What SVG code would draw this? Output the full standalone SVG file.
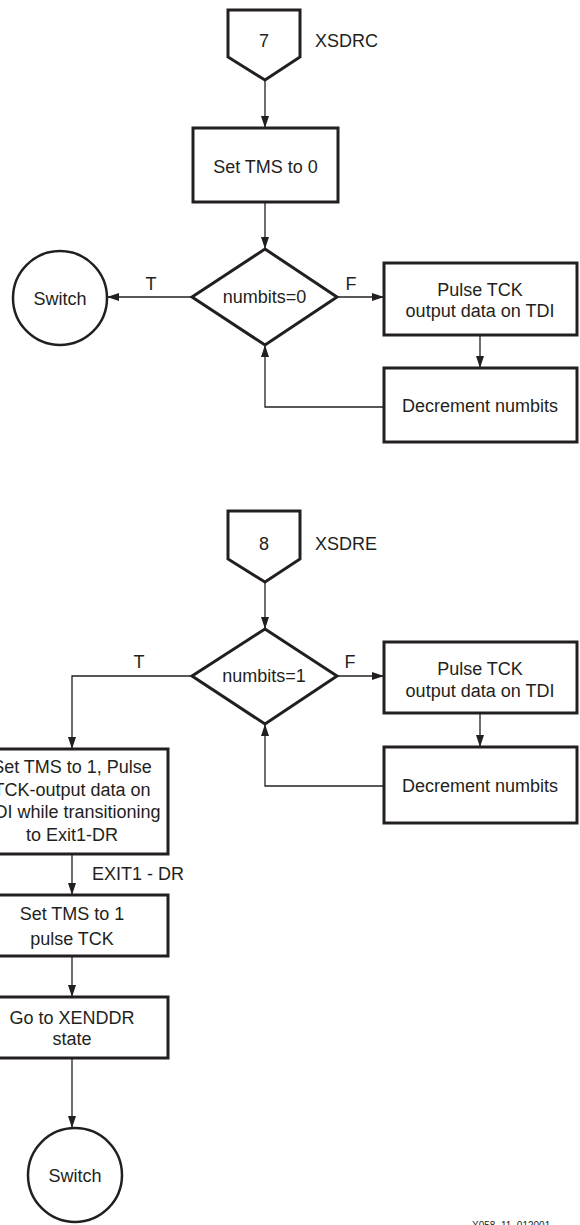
<svg xmlns="http://www.w3.org/2000/svg" width="580" height="1225" viewBox="0 0 580 1225">
<defs>
<marker id="ah" markerWidth="12" markerHeight="8" refX="12" refY="4" orient="auto" markerUnits="userSpaceOnUse">
<path d="M0,0 L12,4 L0,8 Z" fill="#231f20"/>
</marker>
<style>
.box{fill:#fff;stroke:#231f20;stroke-width:3}
.circ{fill:#fff;stroke:#231f20;stroke-width:2.5}
.con{fill:none;stroke:#231f20;stroke-width:1.3;marker-end:url(#ah)}
.lnk{fill:none;stroke:#231f20;stroke-width:1.3}
text{font-family:"Liberation Sans",Arial,sans-serif;font-size:18px;fill:#231f20}
.c{text-anchor:middle}
.sm{font-size:10px}
</style>
</defs>
<rect width="580" height="1225" fill="#fff"/>

<g id="connectors">
<path class="con" d="M265,80 V128"/>
<path class="con" d="M265,202 V249"/>
<path class="con" d="M192,297 H107"/>
<path class="con" d="M337,297 H384"/>
<path class="con" d="M480,335 V368"/>
<path class="con" d="M384,407 H265 V345"/>
<path class="con" d="M265,582 V629"/>
<path class="con" d="M337,676 H384"/>
<path class="con" d="M480,713 V747"/>
<path class="con" d="M384,786 H265 V724"/>
<path class="con" d="M192,676 H72 V749"/>
<path class="con" d="M72,854 V895"/>
<path class="con" d="M72,956 V997"/>
<path class="con" d="M72,1058 V1128"/>
<text x="151" y="290" class="c">T</text>
<text x="351" y="290" class="c">F</text>
<text x="139" y="668" class="c">T</text>
<text x="350" y="668" class="c">F</text>
<text x="92" y="880">EXIT1 - DR</text>
</g>

<g id="xsdrc">
<path class="box" d="M228,10 H300 V57 L265,80 L228,57 Z"/>
<text x="264" y="47" class="c">7</text>
<text x="315" y="47">XSDRC</text>
</g>
<g id="settms0">
<rect class="box" x="193" y="128" width="145" height="74"/>
<text x="265.5" y="173" class="c">Set TMS to 0</text>
</g>
<g id="dec0">
<path class="box" d="M265,249 L337,297 L265,345 L192,297 Z"/>
<text x="264.5" y="303" class="c">numbits=0</text>
</g>
<g id="switch1">
<circle class="circ" cx="60" cy="298" r="47"/>
<text x="60" y="305" class="c">Switch</text>
</g>
<g id="pulse1">
<rect class="box" x="384" y="263" width="193" height="72"/>
<text x="480" y="296" class="c">Pulse TCK</text>
<text x="480" y="317" class="c">output data on TDI</text>
</g>
<g id="decr1">
<rect class="box" x="384" y="368" width="193" height="74"/>
<text x="480" y="412" class="c">Decrement numbits</text>
</g>

<g id="xsdre">
<path class="box" d="M228,511 H300 V559 L265,582 L228,559 Z"/>
<text x="264" y="550" class="c">8</text>
<text x="315" y="550">XSDRE</text>
</g>
<g id="dec1">
<path class="box" d="M265,629 L337,676 L265,724 L192,676 Z"/>
<text x="264" y="682" class="c">numbits=1</text>
</g>
<g id="pulse2">
<rect class="box" x="384" y="642" width="193" height="71"/>
<text x="480" y="675" class="c">Pulse TCK</text>
<text x="480" y="697" class="c">output data on TDI</text>
</g>
<g id="decr2">
<rect class="box" x="384" y="747" width="193" height="76"/>
<text x="480" y="792" class="c">Decrement numbits</text>
</g>
<g id="settms1pulse">
<rect class="box" x="-24" y="749" width="192" height="105"/>
<text x="72" y="773" class="c">Set TMS to 1, Pulse</text>
<text x="72" y="796" class="c">TCK-output data on</text>
<text x="72" y="818" class="c">TDI while transitioning</text>
<text x="72" y="841" class="c">to Exit1-DR</text>
</g>
<g id="settms1">
<rect class="box" x="-24" y="895" width="192" height="61"/>
<text x="72" y="920" class="c">Set TMS to 1</text>
<text x="72" y="945" class="c">pulse TCK</text>
</g>
<g id="xenddr">
<rect class="box" x="-24" y="997" width="192" height="61"/>
<text x="72" y="1024" class="c">Go to XENDDR</text>
<text x="72" y="1045" class="c">state</text>
</g>
<g id="switch2">
<circle class="circ" cx="75" cy="1175" r="47"/>
<text x="75" y="1182" class="c">Switch</text>
</g>
<text x="472" y="1229" class="sm">X058_11_012001</text>
</svg>
